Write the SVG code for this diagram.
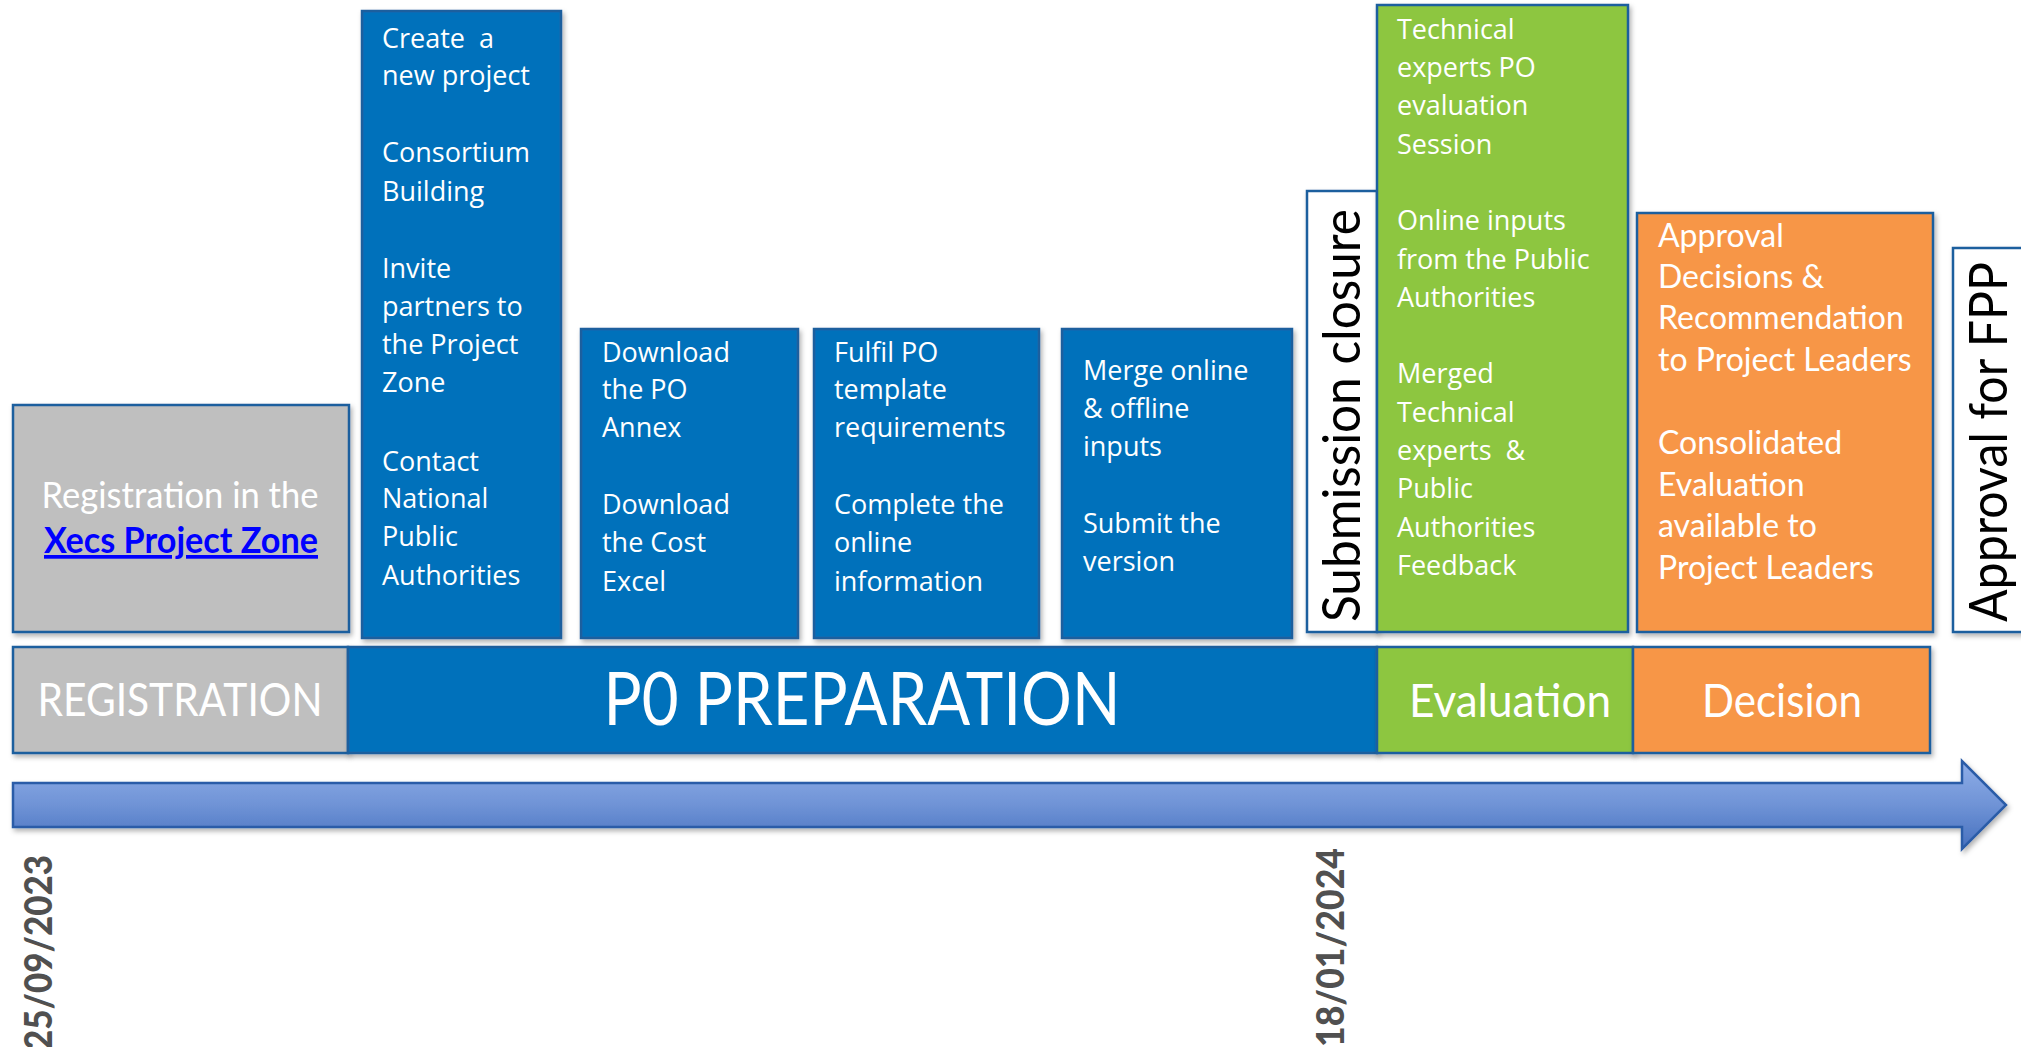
<svg xmlns="http://www.w3.org/2000/svg" width="2021" height="1047" viewBox="0 0 2021 1047">
<defs>
<style>
.box{stroke:#1F5E9E;stroke-width:2.5}
.blue{fill:#0071BB}
.gray{fill:#BFBFBF}
.green{fill:#8DC63F}
.orange{fill:#F79646}
.white{fill:#FFFFFF}
.seg{font-family:"Open Sans","DejaVu Sans",sans-serif;font-size:27px;fill:#FFFFFF}
.cal{font-family:Lato,"Liberation Sans",sans-serif;fill:#FFFFFF}
.rot{font-family:Lato,"Liberation Sans",sans-serif;font-size:53px;fill:#000000}
.date{font-family:Lato,"Liberation Sans",sans-serif;font-size:38px;font-weight:900;fill:#505050}
</style>
<filter id="sh" x="-10%" y="-10%" width="130%" height="130%">
<feDropShadow dx="2" dy="3" stdDeviation="2.5" flood-color="#000000" flood-opacity="0.3"/>
</filter>
<linearGradient id="ag" x1="0" y1="0" x2="0" y2="1">
<stop offset="0" stop-color="#8FAEE8"/>
<stop offset="0.5" stop-color="#6F93D6"/>
<stop offset="1" stop-color="#4670BE"/>
</linearGradient>
</defs>

<g id="timeline-arrow">
<path d="M13,783 H1962 V761 L2006,805 L1962,849 V827 H13 Z" fill="url(#ag)" stroke="#2A5CA8" stroke-width="2.5" filter="url(#sh)"/>
</g>

<g id="phase-bars">
<g id="bar-registration">
<rect x="13" y="647" width="335" height="106" class="box gray" filter="url(#sh)"/>
<text class="cal" x="180" y="716" font-size="47" text-anchor="middle" textLength="285" lengthAdjust="spacingAndGlyphs">REGISTRATION</text>
</g>
<g id="bar-preparation">
<rect x="348" y="647" width="1029" height="106" class="box blue" filter="url(#sh)"/>
<text class="cal" x="862" y="725" font-size="73" text-anchor="middle" textLength="517" lengthAdjust="spacingAndGlyphs">P0 PREPARATION</text>
</g>
<g id="bar-evaluation">
<rect x="1377" y="647" width="256" height="106" class="box green" filter="url(#sh)"/>
<text class="cal" x="1510" y="717" font-size="47" text-anchor="middle" textLength="202" lengthAdjust="spacingAndGlyphs">Evaluation</text>
</g>
<g id="bar-decision">
<rect x="1633" y="647" width="297" height="106" class="box orange" filter="url(#sh)"/>
<text class="cal" x="1782" y="717" font-size="47" text-anchor="middle" textLength="160" lengthAdjust="spacingAndGlyphs">Decision</text>
</g>
</g>

<g id="node-registration">
<rect x="13" y="405" width="336" height="227" class="box gray" filter="url(#sh)"/>
<text class="cal" x="180" y="508" font-size="37" text-anchor="middle" textLength="277" lengthAdjust="spacingAndGlyphs">Registration in the</text>
<text x="181" y="553" font-family="Lato,'Liberation Sans',sans-serif" font-size="37" font-weight="bold" fill="#0000FF" text-decoration="underline" text-anchor="middle" textLength="274" lengthAdjust="spacingAndGlyphs">Xecs Project Zone</text>
</g>

<g id="node-create-project">
<rect x="362" y="11" width="199" height="627" class="box blue" filter="url(#sh)"/>
<text class="seg">
<tspan x="382" y="48">Create&#160; a</tspan>
<tspan x="382" y="85">new project</tspan>
<tspan x="382" y="162">Consortium</tspan>
<tspan x="382" y="201">Building</tspan>
<tspan x="382" y="278">Invite</tspan>
<tspan x="382" y="316">partners to</tspan>
<tspan x="382" y="354">the Project</tspan>
<tspan x="382" y="392">Zone</tspan>
<tspan x="382" y="471">Contact</tspan>
<tspan x="382" y="508">National</tspan>
<tspan x="382" y="546">Public</tspan>
<tspan x="382" y="585">Authorities</tspan>
</text>
</g>

<g id="node-download">
<rect x="581" y="329" width="217" height="309" class="box blue" filter="url(#sh)"/>
<text class="seg">
<tspan x="602" y="362">Download</tspan>
<tspan x="602" y="399">the PO</tspan>
<tspan x="602" y="437">Annex</tspan>
<tspan x="602" y="514">Download</tspan>
<tspan x="602" y="552">the Cost</tspan>
<tspan x="602" y="591">Excel</tspan>
</text>
</g>

<g id="node-fulfil">
<rect x="814" y="329" width="225" height="309" class="box blue" filter="url(#sh)"/>
<text class="seg">
<tspan x="834" y="362">Fulfil PO</tspan>
<tspan x="834" y="399">template</tspan>
<tspan x="834" y="437">requirements</tspan>
<tspan x="834" y="514">Complete the</tspan>
<tspan x="834" y="552">online</tspan>
<tspan x="834" y="591">information</tspan>
</text>
</g>

<g id="node-merge">
<rect x="1062" y="329" width="230" height="309" class="box blue" filter="url(#sh)"/>
<text class="seg">
<tspan x="1083" y="380">Merge online</tspan>
<tspan x="1083" y="418">&amp; offline</tspan>
<tspan x="1083" y="456">inputs</tspan>
<tspan x="1083" y="533">Submit the</tspan>
<tspan x="1083" y="571">version</tspan>
</text>
</g>

<g id="node-submission-closure">
<rect x="1307" y="191" width="70" height="441" class="box white" filter="url(#sh)"/>
<text class="rot" transform="translate(1360,622) rotate(-90)" x="0" y="0" textLength="413" lengthAdjust="spacingAndGlyphs">Submission closure</text>
</g>

<g id="node-evaluation">
<rect x="1377" y="5" width="251" height="627" class="box green" filter="url(#sh)"/>
<text class="seg">
<tspan x="1397" y="39">Technical</tspan>
<tspan x="1397" y="77">experts PO</tspan>
<tspan x="1397" y="115">evaluation</tspan>
<tspan x="1397" y="154">Session</tspan>
<tspan x="1397" y="230">Online inputs</tspan>
<tspan x="1397" y="269">from the Public</tspan>
<tspan x="1397" y="307">Authorities</tspan>
<tspan x="1397" y="383">Merged</tspan>
<tspan x="1397" y="422">Technical</tspan>
<tspan x="1397" y="460">experts&#160; &amp;</tspan>
<tspan x="1397" y="498">Public</tspan>
<tspan x="1397" y="537">Authorities</tspan>
<tspan x="1397" y="575">Feedback</tspan>
</text>
</g>

<g id="node-decision">
<rect x="1637" y="213" width="296" height="419" class="box orange" filter="url(#sh)"/>
<text class="cal" font-size="32">
<tspan x="1658" y="247">Approval</tspan>
<tspan x="1658" y="288">Decisions &amp;</tspan>
<tspan x="1658" y="329">Recommendation</tspan>
<tspan x="1658" y="371">to Project Leaders</tspan>
<tspan x="1658" y="454">Consolidated</tspan>
<tspan x="1658" y="496">Evaluation</tspan>
<tspan x="1658" y="537">available to</tspan>
<tspan x="1658" y="579">Project Leaders</tspan>
</text>
</g>

<g id="node-approval-fpp">
<rect x="1953" y="248" width="80" height="384" class="box white" filter="url(#sh)"/>
<text class="rot" transform="translate(2007,622) rotate(-90)" x="0" y="0" textLength="360" lengthAdjust="spacingAndGlyphs">Approval for FPP</text>
</g>

<g id="dates">
<text class="date" transform="translate(52,1050) rotate(-90)" x="0" y="0" textLength="195" lengthAdjust="spacingAndGlyphs">25/09/2023</text>
<text class="date" transform="translate(1344,1047) rotate(-90)" x="0" y="0" textLength="199" lengthAdjust="spacingAndGlyphs">18/01/2024</text>
</g>
</svg>
